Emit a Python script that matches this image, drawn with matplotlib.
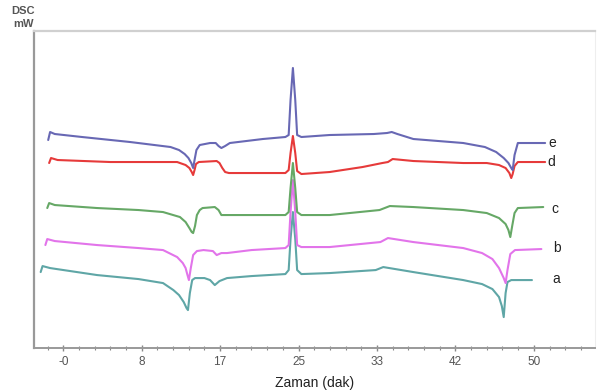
import matplotlib
matplotlib.use('Agg')
import matplotlib.pyplot as plt
from matplotlib.ticker import FixedLocator, MultipleLocator

plt.rcParams['font.family'] = ['Liberation Sans', 'DejaVu Sans']

# time (min) and heat flow (mW, arbitrary offset)
t_a = [-2.4, -2.2, -1.4, 3.6, 8.0, 10.6, 11.7, 12.3, 12.8, 13.1, 13.25, 13.45, 13.7, 14.0, 15.0, 15.6,
       16.1, 16.6, 17.4, 20.0, 23.6, 23.95, 24.15, 24.4, 24.65, 24.85, 25.3, 28.3, 33.2, 34.0, 37.2,
       42.5, 44.5, 45.6, 46.3, 46.6, 46.8, 47.0, 47.2, 47.6, 49.8]
a = [7.6, 8.2, 8.0, 7.3, 6.9, 6.5, 5.8, 5.3, 4.6, 4.0, 3.8, 5.5, 6.8, 7.0, 7.0, 6.8,
     6.3, 6.7, 7.0, 7.2, 7.4, 7.8, 10.9, 13.6, 10.9, 7.8, 7.4, 7.5, 7.8, 8.1, 7.6,
     6.8, 6.4, 5.9, 5.1, 4.2, 3.1, 5.5, 6.6, 6.8, 6.8]

t_b = [-1.9, -1.7, -0.9, 3.6, 8.0, 10.6, 12.1, 12.7, 13.0, 13.2, 13.35, 13.55, 13.8, 14.2, 14.9,
       15.9, 16.3, 16.8, 17.4, 20.0, 23.6, 23.95, 24.15, 24.4, 24.65, 24.85, 25.3, 28.3, 33.7, 34.5,
       37.2, 42.5, 44.5, 45.6, 46.3, 46.8, 47.0, 47.2, 47.5, 48.0, 50.8]
b = [10.3, 10.9, 10.7, 10.3, 10.0, 9.8, 9.1, 8.5, 8.0, 7.3, 6.8, 8.0, 9.3, 9.7, 9.8,
     9.7, 9.3, 9.5, 9.5, 9.8, 10.0, 10.3, 13.6, 16.8, 13.6, 10.3, 10.1, 10.1, 10.6, 11.0,
     10.6, 10.0, 9.5, 8.9, 8.0, 7.0, 6.5, 7.8, 9.4, 9.8, 9.9]

t_c = [-1.7, -1.5, -0.9, 3.6, 8.0, 10.6, 12.4, 13.0, 13.4, 13.65, 13.8, 14.0, 14.2, 14.5, 14.8,
       16.1, 16.5, 16.8, 17.5, 20.0, 23.6, 23.95, 24.15, 24.4, 24.65, 24.85, 25.3, 28.3, 33.6, 34.7,
       37.2, 42.5, 45.0, 46.3, 47.0, 47.3, 47.5, 47.7, 47.95, 48.3, 51.0]
c = [14.0, 14.5, 14.3, 14.0, 13.8, 13.6, 13.1, 12.6, 12.0, 11.6, 11.5, 12.2, 13.3, 13.8, 14.0,
     14.1, 13.8, 13.3, 13.3, 13.3, 13.3, 13.6, 16.0, 18.5, 16.0, 13.6, 13.3, 13.3, 13.8, 14.2,
     14.1, 13.8, 13.5, 13.0, 12.4, 11.8, 11.1, 12.2, 13.5, 14.0, 14.1]

t_d = [-1.5, -1.3, -0.6, 5.0, 12.1, 13.0, 13.4, 13.65, 13.8, 13.95, 14.1, 14.4, 16.3, 16.6,
       16.9, 17.2, 17.6, 20.0, 23.6, 23.95, 24.15, 24.4, 24.65, 24.85, 25.3, 28.3, 31.8, 33.9,
       34.5, 35.0, 37.2, 42.5, 45.0, 46.3, 47.0, 47.4, 47.6, 47.75, 47.95, 48.3, 51.2]
d = [18.5, 19.0, 18.8, 18.6, 18.6, 18.3, 18.0, 17.6, 17.3, 17.8, 18.4, 18.6, 18.7, 18.5,
     18.0, 17.6, 17.5, 17.5, 17.5, 17.8, 19.5, 21.2, 19.5, 17.7, 17.4, 17.6, 18.1, 18.5,
     18.6, 18.9, 18.7, 18.5, 18.5, 18.3, 18.0, 17.5, 17.0, 17.4, 18.2, 18.6, 18.6]

t_e = [-1.6, -1.4, -0.9, 2.0, 7.1, 11.4, 12.3, 12.9, 13.3, 13.6, 13.8, 13.95, 14.15, 14.5, 15.6,
       16.2, 16.5, 16.8, 17.2, 17.7, 21.2, 23.6, 23.95, 24.15, 24.4, 24.65, 24.85, 25.3, 28.3,
       33.0, 34.4, 34.9, 35.5, 37.2, 42.5, 44.8, 46.0, 46.8, 47.3, 47.6, 47.75, 47.95, 48.3, 51.2]
e = [20.8, 21.6, 21.4, 21.1, 20.6, 20.1, 19.8, 19.4, 19.0, 18.5, 18.0, 18.8, 19.8, 20.3, 20.5,
     20.5, 20.2, 20.0, 20.2, 20.5, 20.9, 21.1, 21.3, 24.8, 28.0, 24.8, 21.3, 21.1, 21.3,
     21.4, 21.5, 21.6, 21.4, 20.9, 20.5, 20.1, 19.6, 19.0, 18.5, 18.0, 17.8, 19.3, 20.5, 20.5]

tick_pos = [0, 25 / 3, 50 / 3, 25, 100 / 3, 125 / 3, 50]
tick_labels = ['-0', '8', '17', '25', '33', '42', '50']

curves = [
    ('a', t_a, a, '#5fa6a6', 52.0, 6.9),
    ('b', t_b, b, '#e274ea', 52.1, 10.0),
    ('c', t_c, c, '#66a866', 51.9, 13.9),
    ('d', t_d, d, '#e63a3a', 51.4, 18.6),
    ('e', t_e, e, '#6868b4', 51.5, 20.5),
]

fig = plt.figure(figsize=(5.98, 3.92), dpi=100)
ax = fig.add_axes([0.057, 0.112, 0.938, 0.809])

for name, t, y, col, lx, ly in curves:
    ax.plot(t, y, color=col, lw=1.5, solid_joinstyle='round', solid_capstyle='round')
    ax.text(lx, ly, name, fontsize=10, color='#222222', va='center', ha='left')

ax.set_xlim(-3.1, 56.5)
ax.set_ylim(0, 31.7)

ax.xaxis.set_major_locator(FixedLocator(tick_pos))
ax.set_xticklabels(tick_labels)
ax.xaxis.set_minor_locator(MultipleLocator(5 / 3))
ax.tick_params(axis='x', which='both', direction='inout', colors='#888888',
               labelcolor='#555555', labelsize=8.5, pad=3)
ax.tick_params(axis='x', which='major', length=5, width=1)
ax.tick_params(axis='x', which='minor', length=3, width=0.8)
ax.set_yticks([])

ax.spines['left'].set_color('#999999')
ax.spines['left'].set_linewidth(1.6)
ax.spines['bottom'].set_color('#999999')
ax.spines['bottom'].set_linewidth(1.4)
ax.spines['top'].set_color('#d0d0d0')
ax.spines['top'].set_linewidth(1.6)
ax.spines['right'].set_color('#eeeeee')

ax.set_xlabel('Zaman (dak)', fontsize=10, color='#222222', labelpad=6)
fig.text(0.038, 0.973, 'DSC', fontsize=8, fontweight='bold', color='#555555', ha='center', va='center')
fig.text(0.040, 0.938, 'mW', fontsize=8, fontweight='bold', color='#555555', ha='center', va='center')

fig.savefig('out.png', dpi=100)
